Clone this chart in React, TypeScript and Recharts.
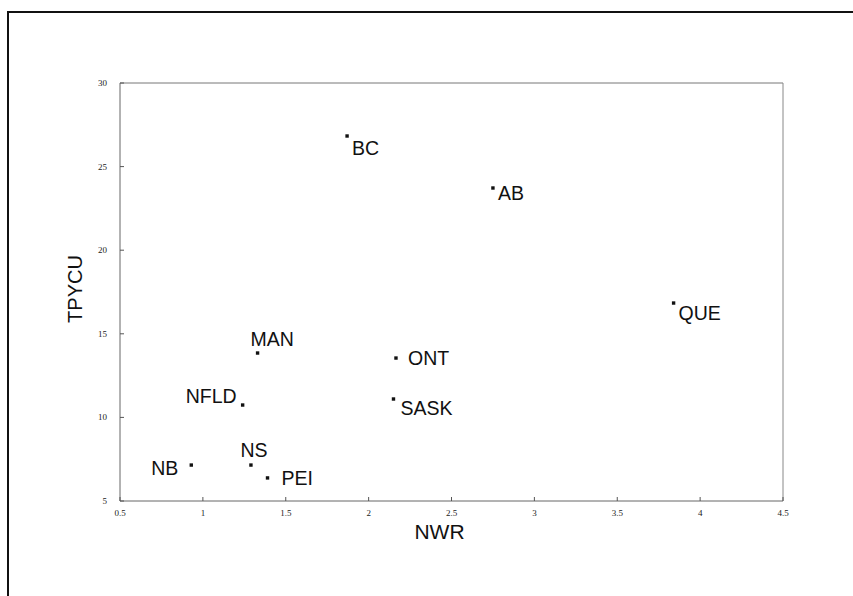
import React from 'react';
import { ScatterChart, Scatter, XAxis, YAxis, ReferenceLine, Label } from 'recharts';

const provinces = ['BC', 'AB', 'QUE', 'MAN', 'ONT', 'NFLD', 'SASK', 'NB', 'NS', 'PEI'];
const nwr = [1.87, 2.75, 3.84, 1.33, 2.165, 1.24, 2.15, 0.93, 1.29, 1.39];
const tpycu = [26.83, 23.72, 16.84, 13.85, 13.55, 10.74, 11.1, 7.15, 7.15, 6.38];
const xTicks = [0.5, 1, 1.5, 2, 2.5, 3, 3.5, 4, 4.5];
const yTicks = [5, 10, 15, 20, 25, 30];

const labelPlacement: Record<string, { dx: number; dy: number; anchor: 'start' | 'middle' | 'end' }> = {
  BC: { dx: 5, dy: 12, anchor: 'start' },
  AB: { dx: 5, dy: 5, anchor: 'start' },
  QUE: { dx: 5, dy: 10, anchor: 'start' },
  MAN: { dx: -7, dy: -14, anchor: 'start' },
  ONT: { dx: 12, dy: 0, anchor: 'start' },
  NFLD: { dx: -6, dy: -9, anchor: 'end' },
  SASK: { dx: 7, dy: 9, anchor: 'start' },
  NB: { dx: -13, dy: 3, anchor: 'end' },
  NS: { dx: 3, dy: -15, anchor: 'middle' },
  PEI: { dx: 14, dy: 0, anchor: 'start' },
};

const data = provinces.map((name, i) => ({ name, x: nwr[i], y: tpycu[i] }));

const FONT = "'Liberation Sans', Arial, sans-serif";
const TICK_FONT = "'Liberation Serif', 'DejaVu Serif', serif";

const PointShape = (props: any) => {
  const { cx, cy, payload } = props;
  const p = labelPlacement[payload.name] || { dx: 5, dy: 0, anchor: 'start' };
  return (
    <g>
      <rect x={cx - 1.7} y={cy - 1.7} width={3.4} height={3.4} fill="#111" />
      <text
        x={cx + p.dx}
        y={cy + p.dy}
        textAnchor={p.anchor}
        dominantBaseline="central"
        fontFamily={FONT}
        fontSize={19.5}
        fill="#111"
      >
        {payload.name}
      </text>
    </g>
  );
};

const XTick = (props: any) => {
  const { x, y, payload } = props;
  return (
    <g>
      <line x1={x} x2={x} y1={y - 12} y2={y - 16} stroke="#555" strokeWidth={1} />
      <text x={x} y={y} textAnchor="middle" dominantBaseline="central" fontSize={9} fontFamily={TICK_FONT} fill="#222">
        {payload.value}
      </text>
    </g>
  );
};

const YTick = (props: any) => {
  const { x, y, payload } = props;
  return (
    <g>
      <line x1={x + 13} x2={x + 17} y1={y} y2={y} stroke="#555" strokeWidth={1} />
      <text x={x} y={y} textAnchor="end" dominantBaseline="central" fontSize={9} fontFamily={TICK_FONT} fill="#222">
        {payload.value}
      </text>
    </g>
  );
};

export default function App() {
  return (
    <div style={{ position: 'absolute', left: 0, top: 0, width: 853, height: 596, background: '#fff', overflow: 'hidden' }}>
      <div style={{ position: 'absolute', left: 0, top: 0 }}>
        <ScatterChart width={853} height={596} margin={{ top: 83, right: 70, bottom: 65, left: 0 }}>
          <XAxis
            type="number"
            dataKey="x"
            domain={[0.5, 4.5]}
            ticks={xTicks}
            tickSize={0}
            tickMargin={12}
            height={30}
            tick={<XTick />}
            axisLine={{ stroke: '#666', strokeWidth: 1 }}
            tickLine={false}
            allowDataOverflow
          >
            <Label
              content={(p: any) => {
                const vb = p.viewBox;
                return (
                  <text x={vb.x + vb.width / 2 - 12} y={vb.y + 30} textAnchor="middle" dominantBaseline="central" fontFamily={FONT} fontSize={21} fill="#111">
                    NWR
                  </text>
                );
              }}
            />
          </XAxis>
          <YAxis
            type="number"
            dataKey="y"
            domain={[5, 30]}
            ticks={yTicks}
            tickSize={0}
            tickMargin={13}
            width={120}
            tick={<YTick />}
            axisLine={{ stroke: '#666', strokeWidth: 1 }}
            tickLine={false}
            allowDataOverflow
          >
            <Label
              content={(p: any) => {
                const vb = p.viewBox;
                const cx = 75;
                const cy = vb.y + vb.height / 2 - 3;
                return (
                  <text x={cx} y={cy} transform={`rotate(-90 ${cx} ${cy})`} textAnchor="middle" dominantBaseline="central" fontFamily={FONT} fontSize={20} fill="#111">
                    TPYCU
                  </text>
                );
              }}
            />
          </YAxis>
          <ReferenceLine y={30} stroke="#777" strokeWidth={1} />
          <ReferenceLine x={4.5} stroke="#888" strokeWidth={1} />
          <Scatter data={data} shape={<PointShape />} isAnimationActive={false} />
        </ScatterChart>
      </div>
      <div
        style={{
          position: 'absolute',
          left: 7,
          top: 11,
          width: 860,
          height: 600,
          borderLeft: '2px solid #111',
          borderTop: '2px solid #111',
          pointerEvents: 'none',
        }}
      />
    </div>
  );
}
